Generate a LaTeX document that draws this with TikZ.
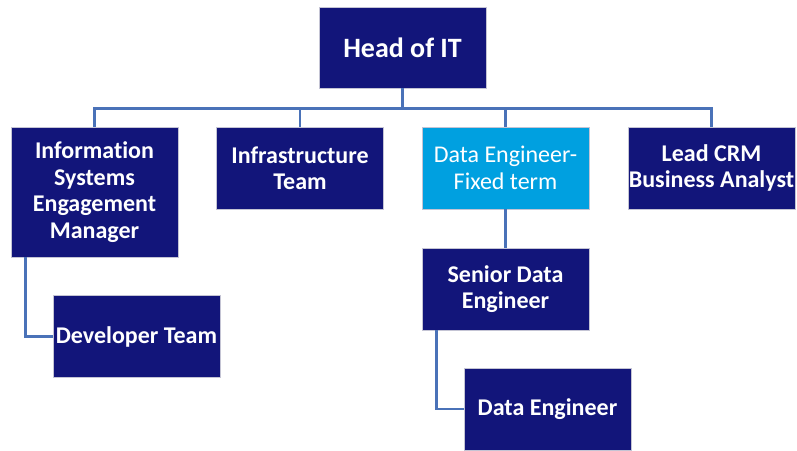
\documentclass[tikz,border=0pt]{standalone}
\usepackage{fontspec}
\setmainfont[Ligatures={NoCommon}]{Carlito}
\definecolor{navy}{HTML}{12157A}
\definecolor{skyblue}{HTML}{00A0E0}
\definecolor{linkblue}{HTML}{4A72B8}
\tikzset{
  rolebox/.style={fill=navy, draw=blue!15!gray!40, line width=0.6pt, text=white,
    font=\bfseries\fontsize{24}{26.5}\selectfont, align=center,
    minimum width=167pt, minimum height=82pt, inner sep=0pt},
  tempbox/.style={rolebox, fill=skyblue, font=\fontsize{24}{26.5}\selectfont},
  link/.style={draw=linkblue, line width=2.8pt}
}
\begin{document}
\begin{tikzpicture}[x=1pt,y=-1pt]
      \useasboundingbox (0,0) rectangle (797,450);
      \node[rolebox, font=\bfseries\fontsize{28}{30}\selectfont, minimum height=81pt] (head) at (402.5,47.5) {Head of IT};
      \node[rolebox, minimum height=130pt] (ism) at (94.5,192) {Information\\Systems\\Engagement\\Manager};
      \node[rolebox] (infra) at (300,168) {Infrastructure\\Team};
      \node[tempbox] (deft) at (505.5,168) {Data Engineer-\\Fixed term};
      \node[rolebox] (lcrm) at (711.5,168) {Lead CRM\\Business Analyst};
      \node[rolebox] (dev) at (136.5,336.5) {Developer Team};
      \node[rolebox] (sde) at (505.5,289) {Senior Data\\Engineer};
      \node[rolebox] (de) at (547.5,409) {Data Engineer};
      \begin{scope}[link]
        \draw (head.south) -- ++(0,20) coordinate (bar);
        \draw (bar) -| (ism.north);
        \draw (bar) -| (infra.north);
        \draw (bar) -| (deft.north);
        \draw (bar) -| (lcrm.north);
        \draw (deft.south) -- (sde.north);
        \draw ([xshift=15pt]ism.south west) |- (dev.west);
        \draw ([xshift=15pt]sde.south west) |- (de.west);
      \end{scope}
    \end{tikzpicture}
\end{document}
